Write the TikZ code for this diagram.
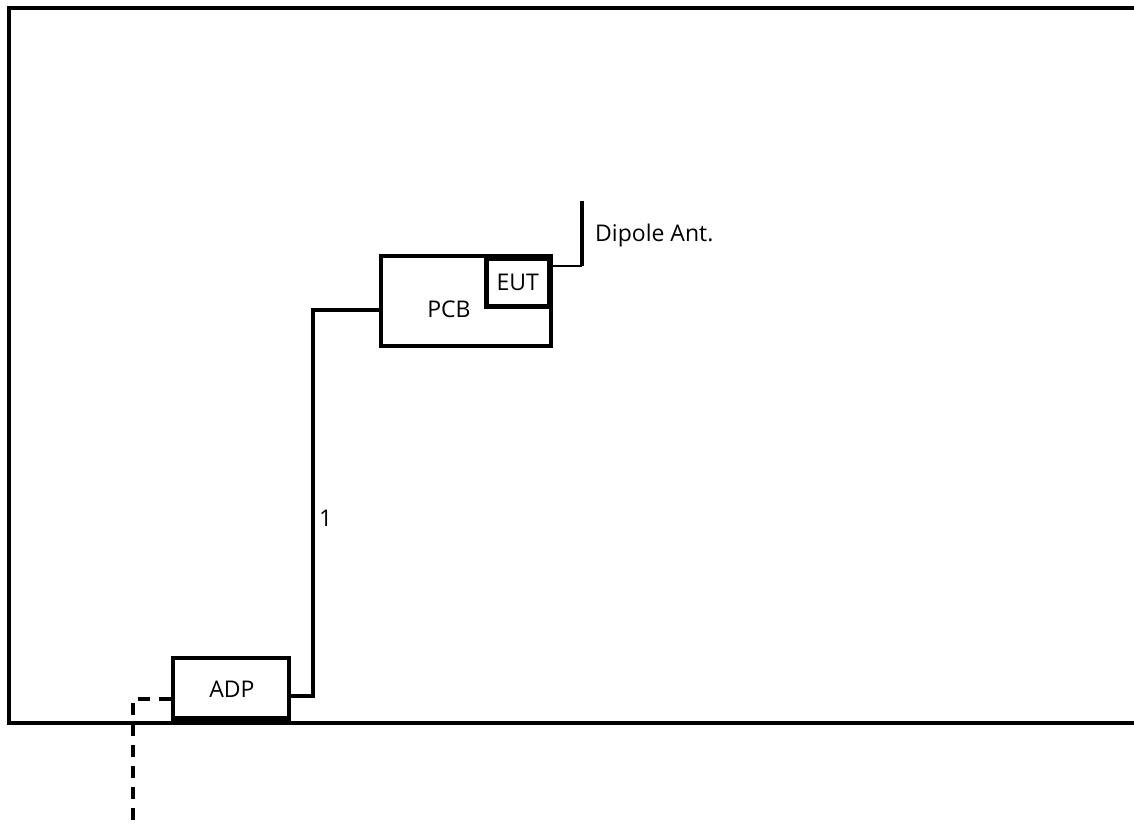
\documentclass[tikz,border=0pt]{standalone}
\usepackage{fontspec}
\setmainfont{Open Sans}
\begin{document}
\begin{tikzpicture}[x=1pt,y=-1pt,
  box/.style={draw,line width=4pt,inner sep=0pt},
  lbl/.style={font=\fontsize{23}{27}\selectfont,inner sep=0pt}]
\useasboundingbox (0,0) rectangle (1134,824);
% room frame
\draw[line width=4.5pt] (1134,8) -- (9,8) -- (9,723) -- (1134,723);
% PCB and EUT
\node[box,minimum width=170pt,minimum height=90pt,anchor=north west] (pcb) at (379,254) {};
\node[lbl] (pcbt) at (449,309) {PCB};
\node[box,line width=4.5pt,minimum width=63pt,minimum height=48pt,anchor=north west] (eut) at (484,256) {};
\node[lbl] at (eut.center) {EUT};
% antenna
\coordinate (antb) at (582,266);
\coordinate (antt) at (582,201);
\draw[line width=2pt] (eut.east |- 0,266) -- (antb);
\draw[line width=3.5pt] (antt) -- (antb);
\node[lbl,anchor=west] (ant) at (595,236) {Dipole Ant.};
% ADP
\node[box,minimum width=116pt,minimum height=64pt,anchor=north west] (adp) at (171,656) {};
\node[lbl] at (232,689) {ADP};
\draw[line width=6pt] (171,719) -- (287,719);
% cable 1
\draw[line width=4pt] (pcb.west |- 0,310) -- (313,310) -- (313,696) -- (adp.east |- 0,696);
\node[lbl,anchor=west] (one) at (319,518) {1};
% dashed cable
\coordinate (out) at (133,824);
\draw[line width=3.5pt,dash pattern=on 12pt off 9pt] (adp.west |- 0,699) -- (133,699) -- (out);
\end{tikzpicture}
\end{document}
